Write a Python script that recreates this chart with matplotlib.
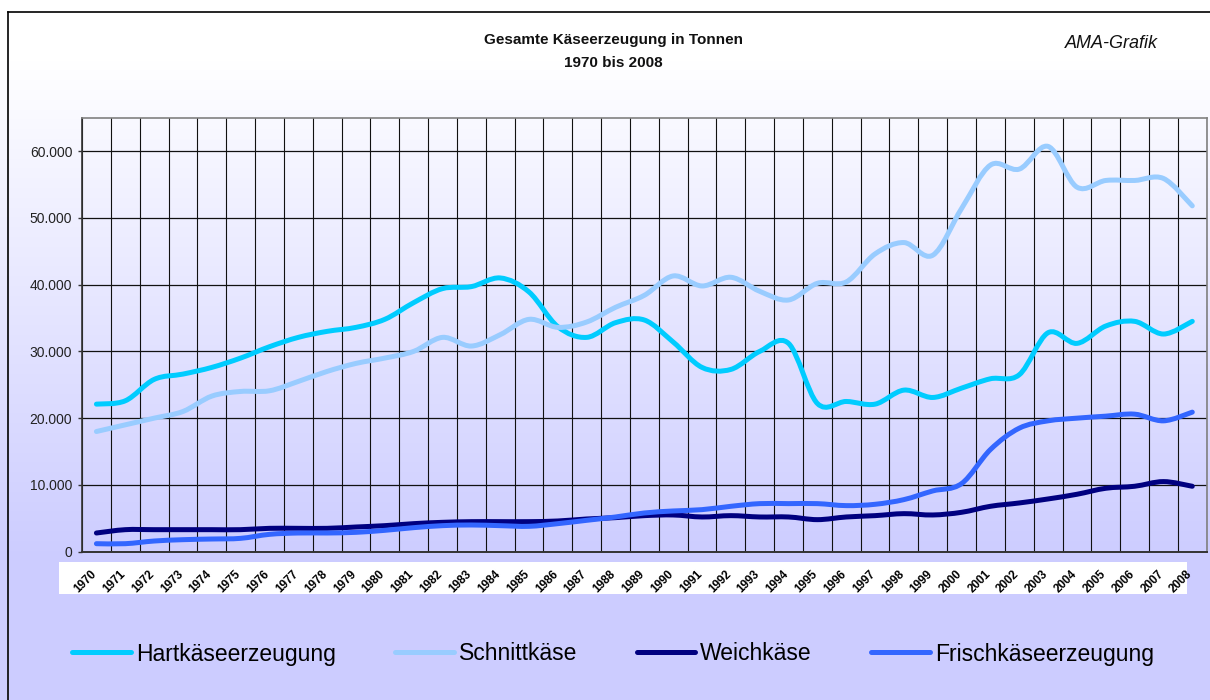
import matplotlib
matplotlib.use("Agg")
import matplotlib.pyplot as plt
import matplotlib.transforms as mtransforms
from matplotlib.patches import Rectangle, PathPatch
from matplotlib.path import Path
from matplotlib.lines import Line2D
from matplotlib.ticker import FuncFormatter, MultipleLocator
import numpy as np

plt.rcParams['font.family'] = ['Liberation Sans', 'DejaVu Sans']

# Gesamte Kaeseerzeugung in Tonnen
years = list(range(1970, 2009))

hartkaese = [22100, 22600, 25800, 26600, 27600, 29000, 30700, 32100, 33000, 33600,
             34800, 37300, 39400, 39700, 41000, 38900, 33700, 32100, 34300, 34700,
             31400, 27600, 27300, 30000, 31200, 22200, 22500, 22100, 24200, 23100,
             24500, 25900, 26500, 32800, 31200, 33800, 34500, 32600, 34500]

schnittkaese = [18000, 19000, 20000, 21000, 23300, 24000, 24100, 25500, 27000, 28200,
                29000, 30000, 32100, 30800, 32500, 34800, 33600, 34400, 36600, 38400,
                41300, 39800, 41100, 39000, 37700, 40200, 40400, 44600, 46300, 44400,
                51400, 57900, 57300, 60700, 54600, 55600, 55600, 55900, 51800]

weichkaese = [2800, 3300, 3300, 3300, 3300, 3300, 3500, 3500, 3500, 3700,
              3900, 4200, 4400, 4500, 4500, 4500, 4600, 4900, 5100, 5400,
              5500, 5200, 5400, 5200, 5200, 4800, 5200, 5400, 5700, 5500,
              5900, 6800, 7300, 7900, 8600, 9500, 9800, 10500, 9800]

frischkaese = [1200, 1200, 1600, 1800, 1900, 2000, 2600, 2800, 2800, 2900,
               3200, 3600, 3900, 4000, 3900, 3800, 4200, 4700, 5200, 5800,
               6100, 6300, 6800, 7200, 7200, 7200, 6900, 7100, 7800, 9100,
               10200, 15300, 18500, 19600, 20000, 20300, 20600, 19600, 20900]

series_names = ["Hartkäseerzeugung", "Schnittkäse", "Weichkäse", "Frischkäseerzeugung"]
series_colors = ["#00CCFF", "#99CCFF", "#000080", "#3366FF"]


def smooth_path(xs, ys):
    # Excel style smoothed line: cubic bezier segments through every point
    xs = np.asarray(xs, float)
    ys = np.asarray(ys, float)
    n = len(xs)
    verts = [(xs[0], ys[0])]
    codes = [Path.MOVETO]
    for i in range(n - 1):
        i0 = max(i - 1, 0)
        i3 = min(i + 2, n - 1)
        c1 = (xs[i] + (xs[i + 1] - xs[i0]) / 6, ys[i] + (ys[i + 1] - ys[i0]) / 6)
        c2 = (xs[i + 1] - (xs[i3] - xs[i]) / 6, ys[i + 1] - (ys[i3] - ys[i]) / 6)
        verts += [c1, c2, (xs[i + 1], ys[i + 1])]
        codes += [Path.CURVE4] * 3
    return Path(verts, codes)


W, H = 1210, 700
fig = plt.figure(figsize=(W / 100, H / 100), dpi=100)

# background gradient, white at the top to lavender at the bottom
bg = fig.add_axes([0, 0, 1, 1], zorder=-1)
rows = np.arange(H)
t = np.clip((rows - 60) / 500.0, 0, 1)[:, None]
top = np.array([255, 255, 255]) / 255.0
bot = np.array([204, 204, 255]) / 255.0
grad = (top * (1 - t) + bot * t)[:, None, :]
bg.imshow(grad, aspect="auto", extent=[0, 1, 0, 1], origin="upper")
bg.set_axis_off()

# white band behind the year labels
fig.add_artist(Rectangle((59 / W, 1 - 594 / H), (1187 - 59) / W, 32 / H,
                         transform=fig.transFigure, facecolor="white",
                         edgecolor="none", zorder=0.5))

# outer frame (left and top visible)
fig.add_artist(Line2D([7.5 / W, 7.5 / W], [0, 1 - 12.3 / H], transform=fig.transFigure,
                      color="black", lw=1.2, zorder=2))
fig.add_artist(Line2D([7.5 / W, 1], [1 - 12.3 / H, 1 - 12.3 / H], transform=fig.transFigure,
                      color="black", lw=1.2, zorder=2))

ax = fig.add_axes([82 / W, 1 - 551.7 / H, (1206.7 - 82) / W, (551.7 - 117.7) / H], zorder=1)
ax.set_facecolor("none")

x = np.arange(len(years))
handles = []
for vals, name, col in zip([hartkaese, schnittkaese, weichkaese, frischkaese],
                           series_names, series_colors):
    ax.add_patch(PathPatch(smooth_path(x, vals), facecolor="none", edgecolor=col,
                           lw=3.6, joinstyle="round", capstyle="round", zorder=3))
    handles.append(Line2D([], [], color=col, lw=3.6, solid_capstyle="round"))

ax.set_xlim(-0.5, len(years) - 0.5)
ax.set_ylim(0, 65000)
ax.yaxis.set_major_locator(MultipleLocator(10000))
ax.yaxis.set_major_formatter(FuncFormatter(lambda v, p: "0" if v == 0 else f"{int(v):,}".replace(",", ".")))

# category boundaries as vertical grid lines
for b in np.arange(-0.5, len(years), 1.0):
    ax.axvline(b, color="#111111", lw=0.8, zorder=1)
for yv in range(10000, 65000, 10000):
    ax.axhline(yv, color="#111111", lw=0.9, zorder=1)

ax.set_xticks(x)
ax.set_xticklabels([str(y) for y in years], rotation=45, ha="right",
                   rotation_mode="anchor", fontsize=8.5, fontweight="bold")
ax.tick_params(axis="x", length=0, pad=12)
offset = mtransforms.ScaledTranslation(-0.06, 0, fig.dpi_scale_trans)
for lab in ax.get_xticklabels():
    lab.set_transform(lab.get_transform() + offset)

ax.tick_params(axis="y", length=3, width=1, color="#333333", pad=4,
               labelsize=10, labelcolor="#222222")

for side in ["top", "right"]:
    ax.spines[side].set_color("#808080")
    ax.spines[side].set_linewidth(1.2)
ax.spines["left"].set_color("#333333")
ax.spines["bottom"].set_color("#333333")
ax.spines["left"].set_linewidth(1.2)
ax.spines["bottom"].set_linewidth(1.4)

fig.text(613 / W, 1 - 40 / H, "Gesamte Käseerzeugung in Tonnen", ha="center", va="center",
         fontsize=11, fontweight="bold", color="#111111")
fig.text(613 / W, 1 - 63 / H, "1970 bis 2008", ha="center", va="center",
         fontsize=11, fontweight="bold", color="#111111")
fig.text(1111 / W, 1 - 43 / H, "AMA-Grafik", ha="center", va="center",
         fontsize=13, style="italic", color="#111111")

fig.legend(handles, series_names, loc="center", bbox_to_anchor=(613 / W, 1 - 654 / H),
           ncol=4, frameon=False, fontsize=16.5, handlelength=2.55,
           handletextpad=0.22, columnspacing=2.6)

fig.savefig("out.png", dpi=100)
